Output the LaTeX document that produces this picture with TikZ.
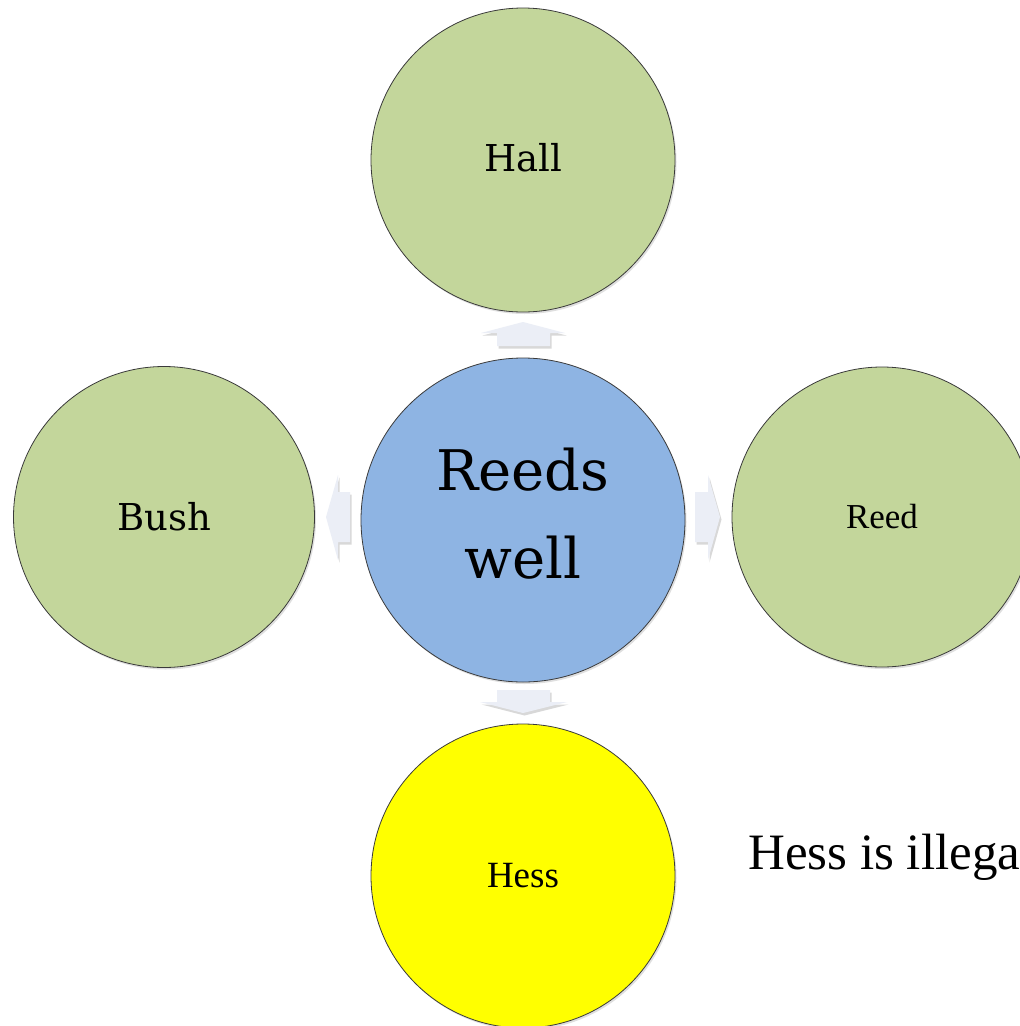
\documentclass[tikz,border=0pt]{standalone}
\usepackage{fontspec}
\setmainfont{Liberation Serif}
\newfontfamily\geo{DejaVu Serif}
\usetikzlibrary{shadows}
\definecolor{leaf}{HTML}{C3D69B}
\definecolor{sky}{HTML}{8EB4E3}
\definecolor{lemon}{HTML}{FFFF00}
\definecolor{arrowfill}{HTML}{EBEEF6}
\definecolor{rim}{HTML}{3A3A3A}
\tikzset{
  ball/.style={circle, draw=rim, line width=0.8pt, inner sep=0pt, align=center,
    drop shadow={opacity=0.25, shadow xshift=1.5pt, shadow yshift=-2pt}},
  blockarrow/.style={fill=arrowfill, draw=none,
    drop shadow={opacity=0.3, shadow xshift=1.5pt, shadow yshift=-2.5pt}},
}
\begin{document}
\begin{tikzpicture}[x=1pt,y=-1pt]
\useasboundingbox (0,0) rectangle (1020,1026);
\fill[white] (0,0) rectangle (1020,1026);
\clip (0,0) rectangle (1020,1026);
% circles
\node[ball, fill=leaf, minimum size=304pt] (hall) at (523,160) {};
\node[ball, fill=sky, minimum size=324pt] (ctr) at (523,520) {};
\node[ball, fill=leaf, minimum size=301pt] (bush) at (164,517) {};
\node[ball, fill=leaf, minimum size=300pt] (reed) at (882,517) {};
\node[ball, fill=lemon, minimum size=304pt] (hess) at (523,876) {};
% labels
\node[font=\geo\fontsize{37}{40}\selectfont] (hallt) at ([yshift=2]hall.center) {Hall};
\node[font=\geo\fontsize{37}{40}\selectfont] (busht) at (bush.center) {Bush};
\node[font=\fontsize{35}{40}\selectfont] (reedt) at (reed.center) {Reed};
\node[font=\fontsize{37}{40}\selectfont] (hesst) at (hess.center) {Hess};
\node[font=\geo\fontsize{56}{88}\selectfont, align=center] (ctrt) at ([yshift=6]ctr.center) {Reeds\\well};
\node[font=\fontsize{51}{56}\selectfont, anchor=base west, inner sep=0pt] (note) at (748,869) {Hess is illega};
% block arrows
\fill[blockarrow] (523,322) -- (565,333) -- (550,333) -- (550,346) -- (497,346) -- (497,333) -- (481,333) -- cycle;
\fill[blockarrow] (523,713) -- (567,702) -- (550,702) -- (550,690) -- (497,690) -- (497,702) -- (480,702) -- cycle;
\fill[blockarrow] (326,517) -- (338,475) -- (338,492) -- (350,492) -- (350,542) -- (338,542) -- (338,560) -- cycle;
\fill[blockarrow] (720,517) -- (708,475) -- (708,492) -- (695,492) -- (695,542) -- (708,542) -- (708,560) -- cycle;
\end{tikzpicture}
\end{document}
